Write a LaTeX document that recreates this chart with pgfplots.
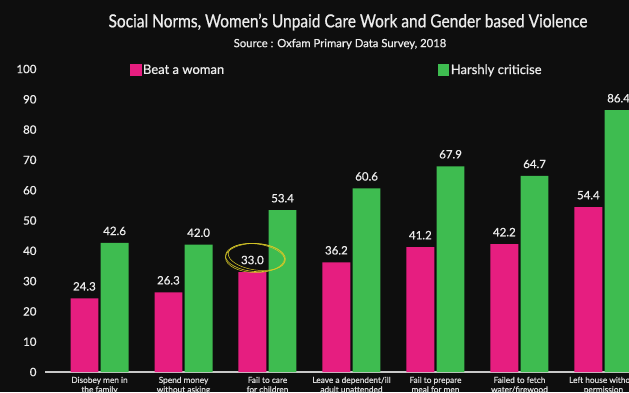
\documentclass[border=0pt]{standalone}
\usepackage{fontspec}
\setmainfont{Lato}[FakeBold=0.7]
\newfontfamily\titlefont{Lato}[FakeStretch=0.86, FakeBold=0.8]
\usepackage{pgfplots}
\pgfplotsset{compat=1.18}
\usetikzlibrary{shapes.geometric}
\definecolor{bgc}{RGB}{14,14,14}
\definecolor{pinkbar}{RGB}{230,30,128}
\definecolor{greenbar}{RGB}{62,188,80}
\definecolor{txt}{RGB}{236,236,236}
\definecolor{circ}{RGB}{215,200,40}
\definecolor{axl}{RGB}{200,200,200}
\begin{document}
\begin{tikzpicture}
\useasboundingbox (-45pt,-20pt) rectangle (584pt,372pt);
\fill[bgc] (-45pt,-20pt) rectangle (584pt,372pt);
\clip (-45pt,-20pt) rectangle (584pt,372pt);
\begin{axis}[
  at={(0pt,0pt)}, anchor=south west,
  scale only axis, width=584pt, height=303pt,
  xmin=-0.649, xmax=6.304, ymin=0, ymax=100,
  ybar=2.4pt, bar width=27.8pt,
  axis x line*=bottom, axis y line*=left,
  x axis line style={draw=axl, line width=1.4pt, -},
  y axis line style={draw=none},
  major tick length=0pt,
  ytick={0,10,...,100},
  xtick={0,1,2,3,4,5,6},
  xticklabels={{Disobey men in\\the family},{Spend money\\without asking},{Fail to care\\for children},{Leave a dependent/ill\\adult unattended},{Fail to prepare\\meal for men},{Failed to fetch\\water/firewood},{Left house without\\permission}},
  xticklabel style={align=center, anchor=north, text=txt!92!black, font=\fontsize{8.3}{9.5}\selectfont, inner sep=2.8pt, yshift=-1.8pt},
  yticklabel style={anchor=east, text=txt, font=\fontsize{11.5}{12}\selectfont, xshift=-5pt},
  /pgf/number format/assume math mode=true,
  nodes near coords,
  every node near coord/.append style={/pgf/number format/fixed, /pgf/number format/fixed zerofill, /pgf/number format/precision=1, /pgf/number format/assume math mode=true, anchor=center, yshift=12pt, text=txt, font=\fontsize{11.5}{12}\selectfont},
  legend columns=2,
  legend style={at={(81.7pt,302pt)}, anchor=west, draw=none, fill=none, text=txt,
    font=\fontsize{13}{14}\selectfont, nodes={inner sep=1.5pt},
    /tikz/every even column/.append style={column sep=212pt}},
  legend image code/.code={\fill[#1] (0pt,-5.8pt) rectangle (11.6pt,5.8pt);},
]
\addplot[fill=pinkbar, draw=none] coordinates {(0,24.3) (1,26.3) (2,33.0) (3,36.2) (4,41.2) (5,42.2) (6,54.4)};
\addplot[fill=greenbar, draw=none] coordinates {(0,42.6) (1,42.0) (2,53.4) (3,60.6) (4,67.9) (5,64.7) (6,86.4)};
\legend{Beat a woman, Harshly criticise}
\node[ellipse, draw=circ, line width=0.6pt, minimum width=60pt, minimum height=28pt, inner sep=0pt, rotate=-4] at ([xshift=-12pt,yshift=14.5pt]axis cs:2,33) {};
\node[ellipse, draw=circ, line width=0.5pt, minimum width=57pt, minimum height=26pt, inner sep=0pt, rotate=-8] at ([xshift=-11pt,yshift=15pt]axis cs:2,33) {};
\node[ellipse, draw=circ, line width=0.5pt, minimum width=59pt, minimum height=29pt, inner sep=0pt, rotate=-1] at ([xshift=-12.5pt,yshift=14pt]axis cs:2,33) {};
\end{axis}
\node[text=txt, font=\titlefont\fontsize{18}{20}\selectfont] at (303pt,350pt) {Social Norms, Women’s Unpaid Care Work and Gender based Violence};
\node[text=txt, font=\fontsize{11.3}{12}\selectfont] at (295pt,328pt) {Source : Oxfam Primary Data Survey, 2018};
\end{tikzpicture}
\end{document}
